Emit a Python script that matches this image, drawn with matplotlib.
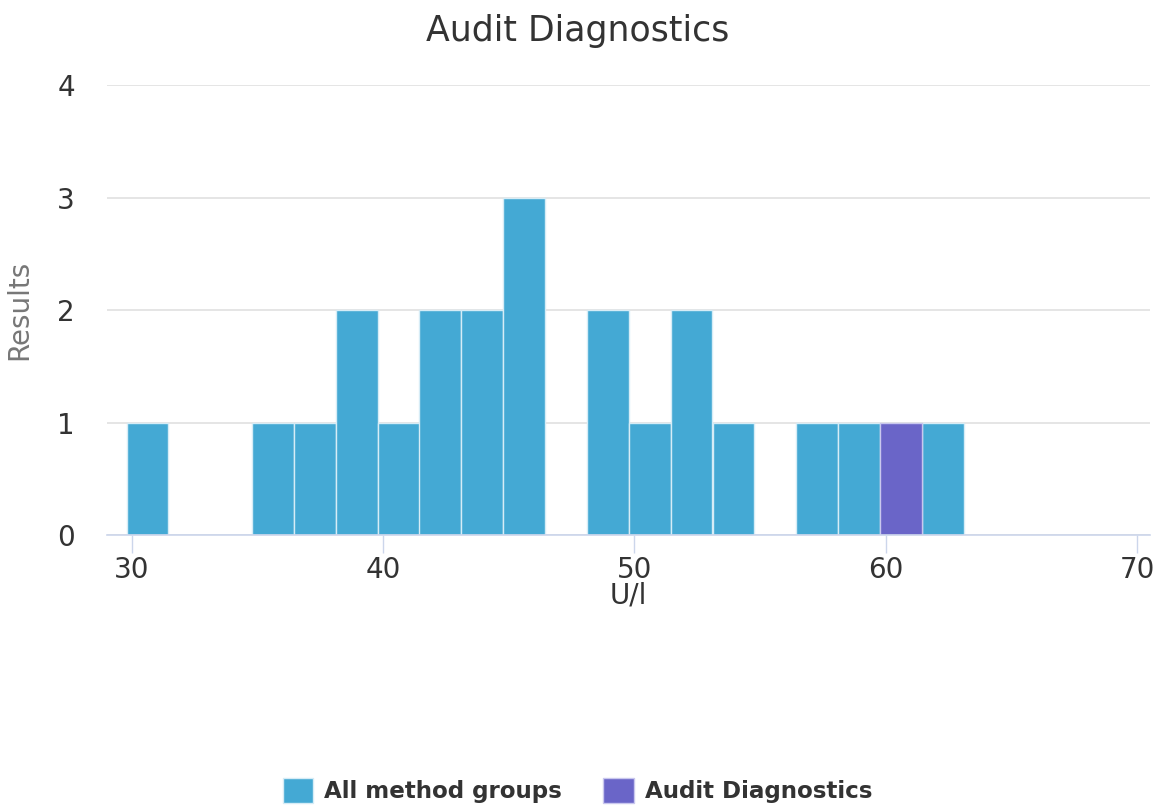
import numpy as np
import matplotlib.pyplot as plt
from matplotlib.patches import Patch

# histogram bins (U/l)
bin_left = [29.80, 31.46, 33.13, 34.79, 36.46, 38.12, 39.79, 41.45, 43.12, 44.78,
            46.45, 48.11, 49.78, 51.44, 53.11, 54.77, 56.44, 58.10, 59.77, 61.43]
bin_width = 1.665
all_counts = [1, 0, 0, 1, 1, 2, 1, 2, 2, 3,
              0, 2, 1, 2, 1, 0, 1, 1, 0, 1]
audit_counts = [0, 0, 0, 0, 0, 0, 0, 0, 0, 0,
                0, 0, 0, 0, 0, 0, 0, 0, 1, 0]

x_ticks = [30, 40, 50, 60, 70]
y_ticks = [0, 1, 2, 3, 4]

c_all = '#44a9d4'
c_audit = '#6a65c8'
txt = '#333333'

plt.rcParams['font.family'] = 'DejaVu Sans'

fig = plt.figure(figsize=(11.55, 8.1), dpi=100)
ax = fig.add_axes([0.0926, 0.3395, 0.9031, 0.5555])

ax.bar(bin_left, all_counts, width=bin_width, align='edge', color=c_all,
       edgecolor='#d6ecf6', linewidth=1, zorder=3)
ax.bar(bin_left, audit_counts, width=bin_width, align='edge', color=c_audit,
       edgecolor='#c9c7ee', linewidth=1, zorder=3)

ax.set_xlim(29.02, 70.51)
ax.set_ylim(0, 4)
ax.set_xticks(x_ticks)
ax.set_yticks(y_ticks)
ax.grid(axis='y', color='#e3e3e3', linewidth=1.3, zorder=0)
for s in ['left', 'right', 'top']:
    ax.spines[s].set_visible(False)
ax.spines['bottom'].set_color('#ccd6eb')
ax.spines['bottom'].set_linewidth(1.2)
ax.spines['bottom'].set_zorder(4)
ax.tick_params(axis='x', direction='out', length=13, width=1, color='#ccd6eb',
               labelsize=20, labelcolor=txt, pad=2)
ax.tick_params(axis='y', length=0, labelsize=20, labelcolor=txt, pad=23)

ax.set_xlabel('U/l', fontsize=20, color=txt, labelpad=-2)
ax.set_ylabel('Results', fontsize=20, color='#777777', labelpad=17)
fig.text(0.5, 0.962, 'Audit Diagnostics', ha='center', va='center',
         fontsize=25, color=txt)

handles = [Patch(facecolor=c_all, edgecolor='#d6ecf6', label='All method groups'),
           Patch(facecolor=c_audit, edgecolor='#c9c7ee', label='Audit Diagnostics')]
fig.legend(handles=handles, loc='center', bbox_to_anchor=(0.5, 0.024), ncol=2,
           frameon=False, prop={'weight': 'bold', 'size': 16.6}, labelcolor=txt,
           handlelength=1.33, handleheight=1.3, handletextpad=0.48, columnspacing=1.78)

fig.savefig('out.png', dpi=100)
